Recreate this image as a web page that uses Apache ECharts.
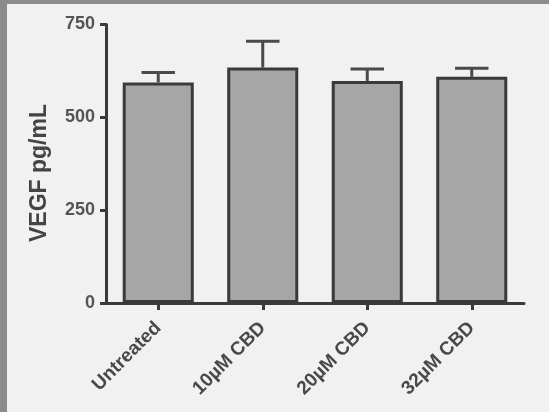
<!DOCTYPE html>
<html>
<head>
<meta charset="utf-8">
<script src="https://cdn.jsdelivr.net/npm/echarts@6/dist/echarts.min.js"></script>
<style>
  html, body { margin: 0; padding: 0; width: 549px; height: 412px; background: #8c8c8c; overflow: hidden; }
  #bg { position: absolute; left: 7px; top: 4px; width: 542px; height: 408px; background: #f1f1f1; }
  #main { position: absolute; left: 0; top: 0; width: 549px; height: 412px; }
</style>
</head>
<body>
<div id="bg"></div>
<div id="main"></div>
<script>
const categories = ['Untreated', '10\u00b5M CBD', '20\u00b5M CBD', '32\u00b5M CBD'];
const means = [594, 634, 598, 609];
const errors = [27, 71, 32, 23];
const yTicks = [0, 250, 500, 750];
const yLabel = 'VEGF pg/mL';

const errData = means.map((m, i) => [i, m, m + errors[i]]);
const dark = '#3a3a3a';
const font = '"Liberation Sans", Arial, sans-serif';

const chart = echarts.init(document.getElementById('main'));
chart.setOption({
  backgroundColor: 'transparent',
  animation: false,
  grid: { left: 106, right: 25, top: 24.5, bottom: 109 },
  xAxis: {
    type: 'category',
    data: categories,
    axisLine: { lineStyle: { color: dark, width: 3 } },
    axisTick: { show: true, alignWithLabel: true, length: 7, lineStyle: { color: dark, width: 3 } },
    axisLabel: { rotate: 45, margin: 22, color: '#484848', fontSize: 19, fontWeight: 'bold', fontFamily: font, interval: 0 }
  },
  yAxis: {
    type: 'value',
    min: yTicks[0],
    max: yTicks[yTicks.length - 1],
    interval: yTicks[1] - yTicks[0],
    splitLine: { show: false },
    axisLine: { show: true, lineStyle: { color: dark, width: 3 } },
    axisTick: { show: true, length: 6, lineStyle: { color: dark, width: 3 } },
    axisLabel: { margin: 11, color: '#555', fontSize: 18, fontWeight: 'bold', fontFamily: font }
  },
  graphic: [{
    type: 'text',
    x: 40, y: 173, rotation: Math.PI / 2,
    style: { text: yLabel, fill: '#444', font: 'bold 23px ' + font, textAlign: 'center', textVerticalAlign: 'middle' }
  }],
  series: [
    {
      type: 'bar',
      data: means,
      barWidth: '68%',
      itemStyle: { color: '#a6a6a6', borderColor: dark, borderWidth: 3 },
      z: 2
    },
    {
      type: 'custom',
      data: errData,
      z: 3,
      renderItem: function (params, api) {
        const base = api.coord([api.value(0), api.value(1)]);
        const top = api.coord([api.value(0), api.value(2)]);
        const half = api.size([1, 0])[0] * 0.16;
        const st = { stroke: '#4a4a4a', lineWidth: 3 };
        return {
          type: 'group',
          children: [
            { type: 'line', shape: { x1: base[0], y1: base[1], x2: top[0], y2: top[1] }, style: st },
            { type: 'line', shape: { x1: top[0] - half, y1: top[1], x2: top[0] + half, y2: top[1] }, style: st }
          ]
        };
      }
    }
  ]
});
</script>
</body>
</html>
